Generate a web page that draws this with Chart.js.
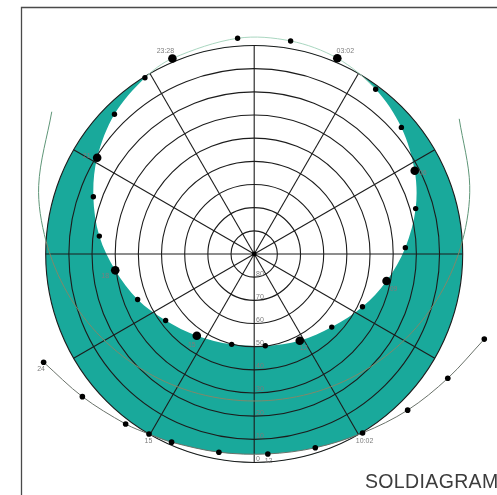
<!DOCTYPE html>
<html>
<head>
<meta charset="utf-8">
<script src="https://cdn.jsdelivr.net/npm/chart.js@4.4.1/dist/chart.umd.min.js"></script>
<style>
html,body{margin:0;padding:0;background:#fff;overflow:hidden}
canvas{display:block}
</style>
</head>
<body>
<canvas id="c" width="497" height="495"></canvas>
<script>
// ---- data (azimuth in degrees from north, clockwise; elevation in degrees) ----
const elevationTicks = [80, 70, 60, 50, 40, 30, 20, 10, 0];
const spokeAzimuths = [0, 30, 60, 90, 120, 150, 180, 210, 240, 270, 300, 330];

// summer solstice path, hourly points starting at noon
const summerAz = [152.3, 173.1, 194.0, 215.1, 233.1, 248.7, 263.3, 276.6, 289.6, 301.5, 315.0, 328.2,
                  337.3, 355.6, 9.7, 23.0, 36.4, 49.3, 62.6, 74.3, 87.6, 101.5, 116.0, 133.3];
const summerEl = [47.7, 50.1, 49.8, 46.9, 42.2, 36.0, 29.6, 22.7, 16.3, 10.5, 4.7, 0.5,
                  -1.5, -3.4, -3.3, -1.8, 1.65, 6.2, 11.95, 17.6, 24.7, 31.7, 38.0, 44.0];
const summerLabels = ['12', '', '', '15', '', '', '18', '', '', '21', '', '',
                      '23:28', '', '', '03:02', '', '', '06', '', '', '09', '', ''];

// winter solstice path, east to west
const winterAz = [110.3, 122.7, 135.5, 148.8, 162.5, 176.1, 190.1, 203.7, 210.3, 217.1, 230.3, 242.8];
const winterEl = [-15.9, -9.3, -4.5, -0.3, 2.3, 3.5, 3.1, 1.3, 0.0, -2.0, -6.4, -12.2];
const winterLabels = ['', '', '', '10:02', '', '12', '', '', '15', '', '', '24'];

// equinox path, east to west
const equinoxAz = [56.6, 72.4, 86.5, 101.9, 118.8, 137.6, 158.2, 180.0, 201.8, 222.4, 241.2, 258.1, 273.5, 287.6, 305.1];
const equinoxEl = [-16.0, -7.6, 0.0, 7.7, 14.9, 21.0, 25.1, 26.55, 25.1, 21.0, 14.9, 7.7, 0.0, -7.6, -16.8];

const chartTitle = 'SOLDIAGRAM';

// ---- styles ----
const TEAL = '#19a99b';
const TENSION = 1 / 3;
const labelOffsets = {
  summer: {'23:28': [-7, -7], '03:02': [8, -7], '06': [8, 2], '09': [7, 8], '12': [4, 7.5], '15': [-5, 9], '18': [-10, 6], '21': [-10.5, -2]},
  winter: {'24': [-2.5, 7], '15': [-0.5, 7], '12': [0.7, 7], '10:02': [2, 8]}
};

function toXY(az, el) {
  const zd = 90 - el, a = az * Math.PI / 180;
  return {x: zd * Math.sin(a), y: zd * Math.cos(a)};
}
const summerData = summerAz.map((a, i) => toXY(a, summerEl[i]));
const winterData = winterAz.map((a, i) => toXY(a, winterEl[i]));
const equinoxData = equinoxAz.map((a, i) => toXY(a, equinoxEl[i]));

function splinePath(ctx, pts, t, loop) {
  const n = pts.length;
  const cps = pts.map((p, i) => {
    const prev = i > 0 ? pts[i - 1] : (loop ? pts[n - 1] : p);
    const next = i < n - 1 ? pts[i + 1] : (loop ? pts[0] : p);
    const d01 = Math.hypot(p.x - prev.x, p.y - prev.y), d12 = Math.hypot(next.x - p.x, next.y - p.y);
    const s = d01 + d12;
    const fa = s ? t * d01 / s : 0, fb = s ? t * d12 / s : 0;
    return {px: p.x - fa * (next.x - prev.x), py: p.y - fa * (next.y - prev.y),
            nx: p.x + fb * (next.x - prev.x), ny: p.y + fb * (next.y - prev.y)};
  });
  ctx.moveTo(pts[0].x, pts[0].y);
  const segs = loop ? n : n - 1;
  for (let i = 0; i < segs; i++) {
    const j = (i + 1) % n;
    ctx.bezierCurveTo(cps[i].nx, cps[i].ny, cps[j].px, cps[j].py, pts[j].x, pts[j].y);
  }
}

const sunGrid = {
  id: 'sunGrid',
  beforeDatasetsDraw(chart) {
    const {ctx, scales: {x, y}} = chart;
    const cx = x.getPixelForValue(0), cy = y.getPixelForValue(0);
    const rad = v => x.getPixelForValue(v) - cx;
    const R = rad(90);
    ctx.save();
    // frame
    ctx.strokeStyle = '#4a4a4a';
    ctx.lineWidth = 1.3;
    ctx.beginPath();
    ctx.moveTo(21.5, 495); ctx.lineTo(21.5, 7.5); ctx.lineTo(497, 7.5);
    ctx.stroke();

    // teal band between the solstice paths, clipped to horizon
    ctx.save();
    ctx.beginPath(); ctx.arc(cx, cy, R, 0, Math.PI * 2); ctx.clip();
    ctx.fillStyle = TEAL;
    ctx.fillRect(0, 0, chart.width, chart.height);
    ctx.fillStyle = '#fff';
    const sp = chart.getDatasetMeta(0).data.map(p => ({x: p.x, y: p.y}));
    ctx.beginPath(); splinePath(ctx, sp, TENSION, true); ctx.closePath(); ctx.fill();
    const wp = chart.getDatasetMeta(1).data.map(p => ({x: p.x, y: p.y}));
    ctx.beginPath(); splinePath(ctx, wp, TENSION, false);
    ctx.lineTo(x.getPixelForValue(-300), y.getPixelForValue(-300));
    ctx.lineTo(x.getPixelForValue(300), y.getPixelForValue(-300));
    ctx.closePath(); ctx.fill();
    ctx.restore();

    // rings and spokes
    ctx.strokeStyle = '#1c1c1c';
    ctx.lineWidth = 1.1;
    elevationTicks.forEach(e => {
      ctx.beginPath(); ctx.arc(cx, cy, rad(90 - e), 0, Math.PI * 2); ctx.stroke();
    });
    spokeAzimuths.forEach(a => {
      const r = a * Math.PI / 180;
      ctx.beginPath(); ctx.moveTo(cx, cy);
      ctx.lineTo(cx + R * Math.sin(r), cy - R * Math.cos(r)); ctx.stroke();
    });
    // tick labels
    ctx.font = '7px "Liberation Sans", Arial, sans-serif';
    ctx.fillStyle = '#7a7a7a';
    ctx.textAlign = 'left';
    ctx.textBaseline = 'alphabetic';
    elevationTicks.forEach(e => {
      ctx.fillText(String(e), cx + 1.8, cy + rad(90 - e) - 1.6);
    });
    // centre dot
    ctx.fillStyle = '#000';
    ctx.beginPath(); ctx.arc(cx, cy, 2.4, 0, Math.PI * 2); ctx.fill();
    ctx.restore();
  },
  afterDatasetsDraw(chart) {
    const {ctx} = chart;
    ctx.save();
    ctx.font = '7px "Liberation Sans", Arial, sans-serif';
    ctx.fillStyle = '#7d7d7d';
    ctx.textAlign = 'center';
    ctx.textBaseline = 'middle';
    chart.getDatasetMeta(0).data.forEach((p, i) => {
      const l = summerLabels[i];
      if (l) { const o = labelOffsets.summer[l] || [0, 8]; ctx.fillText(l, p.x + o[0], p.y + o[1]); }
    });
    chart.getDatasetMeta(1).data.forEach((p, i) => {
      const l = winterLabels[i];
      if (l) { const o = labelOffsets.winter[l] || [0, 8]; ctx.fillText(l, p.x + o[0], p.y + o[1]); }
    });
    ctx.font = '19.5px "Liberation Sans", Arial, sans-serif';
    if ('letterSpacing' in ctx) ctx.letterSpacing = '0.35px';
    ctx.fillStyle = '#3c3c3c';
    ctx.textAlign = 'left';
    ctx.textBaseline = 'alphabetic';
    ctx.fillText(chartTitle, 365, 487.5);
    ctx.restore();
  }
};

const k = 208.5 / 90; // px per degree
new Chart(document.getElementById('c'), {
  type: 'scatter',
  data: {
    datasets: [
      {
        label: 'Sommer',
        data: summerData,
        showLine: true,
        tension: TENSION,
        borderWidth: 1,
        borderColor: 'rgba(160,210,185,0.9)',
        segment: {
          borderColor: c => (summerEl[c.p0DataIndex] < 0 || summerEl[c.p1DataIndex] < 0) ? 'rgba(160,210,185,0.9)' : 'rgba(0,0,0,0)'
        },
        pointRadius: c => summerLabels[c.dataIndex] ? 4.3 : 2.7,
        pointBackgroundColor: '#000',
        pointBorderWidth: 0,
        clip: false,
        order: 0
      },
      {
        label: 'Vinter',
        data: winterData,
        showLine: true,
        tension: TENSION,
        borderWidth: 1,
        borderColor: '#6a726a',
        pointRadius: 2.8,
        pointBackgroundColor: '#000',
        pointBorderWidth: 0,
        clip: false,
        order: 1
      },
      {
        label: 'Jevndogn',
        data: equinoxData,
        showLine: true,
        tension: TENSION,
        borderWidth: 1,
        borderColor: 'rgb(95,150,120)',
        segment: {
          borderColor: c => (equinoxEl[c.p0DataIndex] >= 0 && equinoxEl[c.p1DataIndex] >= 0) ? 'rgb(128,136,106)' : 'rgb(95,150,120)'
        },
        pointRadius: 0,
        clip: false,
        order: 2
      }
    ]
  },
  options: {
    responsive: false,
    animation: false,
    events: [],
    layout: {padding: 0, autoPadding: false},
    plugins: {legend: {display: false}, tooltip: {enabled: false}, title: {display: false}},
    scales: {
      x: {type: 'linear', display: false, min: -254.2 / k, max: (497 - 254.2) / k},
      y: {type: 'linear', display: false, min: -(495 - 254) / k, max: 254 / k}
    }
  },
  plugins: [sunGrid]
});
</script>
</body>
</html>
